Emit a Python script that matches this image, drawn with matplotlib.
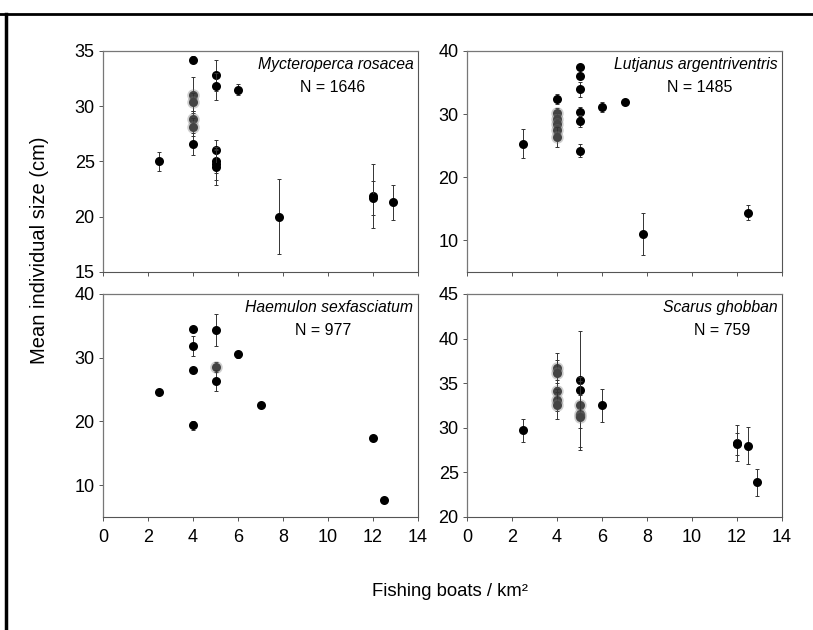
import matplotlib
matplotlib.use('Agg')
import matplotlib.pyplot as plt
from matplotlib.lines import Line2D

plt.rcParams['font.family'] = ['Liberation Sans', 'DejaVu Sans']

# Mycteroperca rosacea
mr_x = [2.5, 4.0, 4.0, 4.0, 4.0, 4.0, 4.0, 5.0, 5.0, 5.0, 5.0, 5.0, 5.0, 6.0, 7.8, 12.0, 12.0, 12.9]
mr_y = [25.0, 34.2, 31.0, 30.4, 28.8, 28.1, 26.6, 32.8, 31.8, 26.0, 25.0, 24.8, 24.5, 31.5, 20.0, 21.9, 21.7, 21.3]
mr_err = [0.9, 0.3, 1.6, 0.8, 0.8, 0.8, 1.0, 1.4, 1.2, 0.9, 1.0, 1.5, 1.6, 0.5, 3.4, 2.9, 1.5, 1.6]
mr_blur = [False, False, True, True, True, True, False, False, False, False, False, False, False, False, False, False, False, False]

# Lutjanus argentriventris
la_x = [2.5, 4.0, 4.0, 4.0, 4.0, 4.0, 4.0, 5.0, 5.0, 5.0, 5.0, 5.0, 5.0, 6.0, 7.0, 7.8, 12.5]
la_y = [25.3, 32.4, 30.1, 29.3, 28.4, 27.5, 26.4, 37.5, 36.0, 33.9, 30.4, 28.9, 24.2, 31.1, 31.9, 11.0, 14.4]
la_err = [2.3, 0.8, 0.8, 0.8, 0.8, 0.8, 1.6, 0.3, 0.3, 1.2, 0.8, 0.9, 1.0, 0.8, 0.0, 3.3, 1.2]
la_blur = [False, False, True, True, True, True, True, False, False, False, False, False, False, False, False, False, False]

# Haemulon sexfasciatum
hs_x = [2.5, 4.0, 4.0, 4.0, 4.0, 5.0, 5.0, 5.0, 6.0, 7.0, 12.0, 12.5]
hs_y = [24.6, 34.5, 31.8, 28.1, 19.4, 34.3, 28.6, 26.4, 30.5, 22.6, 17.4, 7.6]
hs_err = [0.3, 0.4, 1.6, 0.5, 0.7, 2.5, 0.8, 1.7, 0.5, 0.2, 0.2, 0.2]
hs_blur = [False, False, False, False, False, False, True, False, False, False, False, False]

# Scarus ghobban
sg_x = [2.5, 4.0, 4.0, 4.0, 4.0, 4.0, 5.0, 5.0, 5.0, 5.0, 5.0, 6.0, 12.0, 12.0, 12.5, 12.9]
sg_y = [29.7, 36.7, 36.1, 34.1, 33.1, 32.5, 35.4, 34.2, 32.5, 31.5, 31.2, 32.5, 28.3, 28.2, 28.0, 23.9]
sg_err = [1.3, 1.7, 1.5, 1.2, 1.2, 1.5, 5.4, 1.5, 1.2, 3.7, 3.7, 1.8, 2.0, 1.2, 2.1, 1.5]
sg_blur = [False, True, True, True, True, True, False, False, True, True, True, False, False, False, False, False]

panels = [
    ('Mycteroperca rosacea', 'N = 1646', mr_x, mr_y, mr_err, mr_blur, (15, 35), [15, 20, 25, 30, 35], 0.73),
    ('Lutjanus argentriventris', 'N = 1485', la_x, la_y, la_err, la_blur, (5, 40), [10, 20, 30, 40], 0.74),
    ('Haemulon sexfasciatum', 'N = 977', hs_x, hs_y, hs_err, hs_blur, (5, 40), [10, 20, 30, 40], 0.70),
    ('Scarus ghobban', 'N = 759', sg_x, sg_y, sg_err, sg_blur, (20, 45), [20, 25, 30, 35, 40, 45], 0.81),
]

fig = plt.figure(figsize=(8.13, 6.3), dpi=100)

positions = [
    [0.1267, 0.5683, 0.3875, 0.3508],
    [0.5744, 0.5683, 0.3875, 0.3508],
    [0.1267, 0.1794, 0.3875, 0.3540],
    [0.5744, 0.1794, 0.3875, 0.3540],
]

for i, (name, n_text, xs, ys, errs, blur, ylim, yticks, nx) in enumerate(panels):
    ax = fig.add_axes(positions[i])
    for x, y, e, b in zip(xs, ys, errs, blur):
        if e > 0:
            ax.errorbar(x, y, yerr=e, fmt='none', ecolor='#333333', elinewidth=0.7,
                        capsize=1.5, capthick=0.7)
        if b:
            # soft, blurred-looking points of the scanned original
            ax.plot(x, y, 'o', color='#777777', markersize=9, alpha=0.35, markeredgewidth=0)
            ax.plot(x, y, 'o', color='#444444', markersize=6.5, markeredgewidth=0)
        else:
            ax.plot(x, y, 'o', color='black', markersize=6.5, markeredgewidth=0)
    ax.set_xlim(0, 14)
    ax.set_ylim(*ylim)
    ax.set_xticks(range(0, 15, 2))
    ax.set_yticks(yticks)
    ax.tick_params(labelsize=13, length=3, width=0.7, color='#555555', pad=3)
    if i < 2:
        ax.tick_params(labelbottom=False)
    else:
        ax.tick_params(axis='x', pad=6)
    for s in ['left', 'top']:
        ax.spines[s].set_color('#777777')
        ax.spines[s].set_linewidth(0.9)
    for s in ['right', 'bottom']:
        ax.spines[s].set_color('#555555')
        ax.spines[s].set_linewidth(0.8)
        ax.spines[s].set_linestyle((0, (3, 1, 1, 1)))
    ax.text(0.985, 0.94, name, transform=ax.transAxes, ha='right', va='center',
            fontsize=11.3, style='italic')
    ax.text(nx, 0.835, n_text, transform=ax.transAxes, ha='center', va='center',
            fontsize=11.5)

fig.text(0.049, 0.602, 'Mean individual size (cm)', rotation=90, ha='center', va='center', fontsize=14.5)
fig.text(0.553, 0.061, 'Fishing boats / km²', ha='center', va='center', fontsize=13.3)

# outer frame lines of the scanned figure
fig.add_artist(Line2D([0.007, 0.007], [0.0, 0.978], transform=fig.transFigure, color='black', linewidth=2.5))
fig.add_artist(Line2D([0.0, 1.0], [0.978, 0.978], transform=fig.transFigure, color='black', linewidth=2))

fig.savefig('out.png', dpi=100)
